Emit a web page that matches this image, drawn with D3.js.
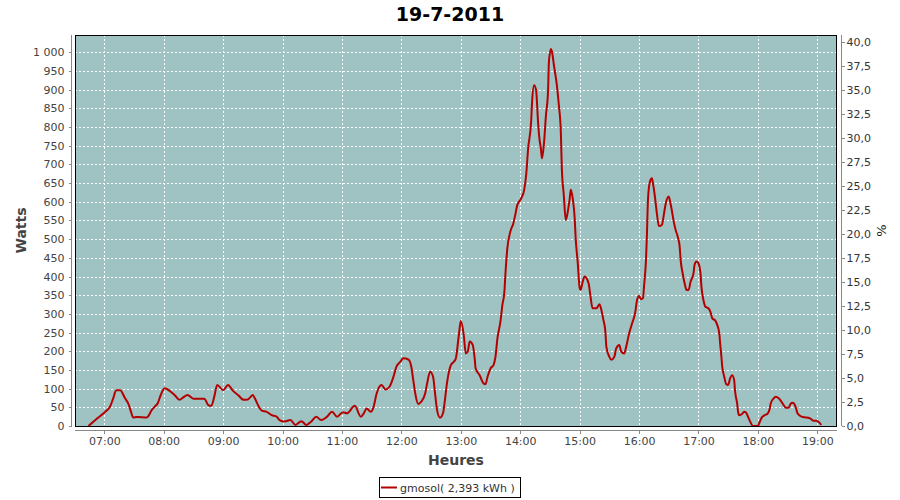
<!DOCTYPE html>
<html>
<head>
<meta charset="utf-8">
<script src="https://cdn.jsdelivr.net/npm/d3@7"></script>
<style>
  html, body { margin: 0; padding: 0; background: #fff; }
  svg { display: block; font-family: "DejaVu Sans", sans-serif; }
</style>
</head>
<body>
<svg id="chart" width="900" height="500"></svg>
<script>
const titleText = "19-7-2011";
const seriesName = "gmosol( 2,393 kWh )";
const xLabel = "Heures";
const yLabel = "Watts";
const y2Label = "%";

const times = ["06:44","06:51","06:56","07:01","07:06","07:09","07:12","07:16","07:21","07:24","07:27","07:29","07:33","07:43","07:44","07:48","07:51","07:54","07:57","08:01","08:06","08:11","08:16","08:20","08:24","08:30","08:41","08:45","08:48","08:51","08:54","09:00","09:05","09:10","09:15","09:21","09:25","09:30","09:32","09:36","09:39","09:44","09:49","09:54","09:57","10:02","10:08","10:13","10:19","10:24","10:29","10:34","10:39","10:45","10:50","10:55","11:01","11:05","11:13","11:19","11:22","11:25","11:29","11:32","11:35","11:40","11:44","11:48","11:52","11:55","11:59","12:02","12:07","12:10","12:12","12:14","12:17","12:20","12:24","12:26","12:29","12:32","12:34","12:36","12:39","12:42","12:44","12:46","12:50","12:53","12:55","12:58","13:00","13:03","13:05","13:07","13:09","13:12","13:14","13:15","13:19","13:23","13:25","13:27","13:30","13:33","13:35","13:37","13:40","13:42","13:44","13:45","13:47","13:50","13:53","13:55","13:57","14:01","14:04","14:06","14:08","14:11","14:12","14:14","14:16","14:18","14:19","14:21","14:22","14:24","14:26","14:28","14:29","14:31","14:32","14:34","14:37","14:39","14:41","14:42","14:44","14:46","14:48","14:50","14:51","14:53","14:55","14:56","14:58","15:00","15:01","15:03","15:05","15:09","15:11","15:13","15:17","15:20","15:22","15:24","15:26","15:27","15:30","15:32","15:35","15:37","15:40","15:42","15:45","15:47","15:50","15:53","15:56","15:58","16:00","16:02","16:04","16:05","16:07","16:08","16:09","16:11","16:13","16:14","16:16","16:18","16:20","16:23","16:25","16:27","16:30","16:31","16:33","16:35","16:37","16:39","16:41","16:42","16:44","16:46","16:48","16:50","16:52","16:55","16:56","16:58","17:00","17:02","17:03","17:05","17:07","17:10","17:12","17:14","17:17","17:19","17:21","17:22","17:23","17:24","17:26","17:28","17:30","17:32","17:34","17:36","17:37","17:39","17:40","17:41","17:44","17:46","17:48","17:50","17:52","17:55","18:00","18:02","18:04","18:07","18:10","18:12","18:13","18:16","18:18","18:21","18:23","18:26","18:28","18:31","18:33","18:35","18:38","18:40","18:44","18:48","18:51","18:54","18:56","18:59","19:02","19:04"];

const watts = [0,16,27,38,53,74,96,96,74,61,38,23,24,23,25,43,52,61,83,101,94,83,70,77,83,73,73,56,54,78,110,96,110,94,83,70,71,83,74,52,41,38,29,25,16,12,16,3,13,3,12,25,16,25,38,25,37,34,54,25,34,47,38,52,87,110,98,105,132,159,172,181,178,159,123,87,59,65,87,114,145,132,87,43,22,34,70,114,163,172,181,243,281,243,194,199,226,217,181,154,136,114,112,132,154,163,185,235,279,324,359,404,476,520,542,565,591,609,632,672,743,814,868,912,899,814,779,739,716,757,832,890,975,1009,1002,966,912,859,788,690,618,551,573,609,632,609,556,502,440,370,364,385,400,382,346,315,315,326,310,284,252,212,185,177,185,208,217,199,194,212,248,275,302,337,348,339,342,373,444,516,605,654,663,650,614,569,535,538,565,596,614,605,578,547,524,507,480,444,409,382,364,364,386,409,431,440,435,409,373,337,319,315,306,288,282,270,248,217,190,159,132,112,110,128,136,123,92,61,38,29,32,38,36,25,13,0,0,12,23,29,34,47,61,74,78,74,68,56,49,49,59,62,52,34,25,23,22,18,14,14,9,3];

const xTickLabels = ["07:00","08:00","09:00","10:00","11:00","12:00","13:00","14:00","15:00","16:00","17:00","18:00","19:00"];
const yTicks = d3.range(0, 1001, 50);
const y2Ticks = d3.range(0, 40.01, 2.5);

const parse = d3.timeParse("%Y-%m-%d %H:%M:%S");
const day = "2011-07-19 ";
const data = times.map((t, i) => ({ t: parse(day + t + ":00"), v: watts[i] }));

const L = 75, R = 837, T = 35, B = 426;
const svg = d3.select("#chart");

const x = d3.scaleTime()
  .domain([parse(day + "06:30:25"), parse(day + "19:19:53")])
  .range([L, R]);
const y = d3.scaleLinear().domain([0, 1046.3]).range([B, T]);
const y2 = d3.scaleLinear().domain([0, 40.76]).range([B, T]);

// title
svg.append("text").attr("x", 450).attr("y", 21).attr("text-anchor", "middle")
  .attr("font-size", 19).attr("font-weight", "bold").attr("fill", "#000").text(titleText);

// plot background
svg.append("rect").attr("x", L).attr("y", T).attr("width", R - L).attr("height", B - T)
  .attr("fill", "#9ec3c2");

// grid
const gridG = svg.append("g").attr("shape-rendering", "crispEdges");
const hourTicks = xTickLabels.map(s => parse(day + s + ":00"));
gridG.selectAll("line.vx").data(hourTicks).enter().append("line")
  .attr("x1", d => Math.round(x(d)) + 0.5).attr("x2", d => Math.round(x(d)) + 0.5)
  .attr("y1", T).attr("y2", B)
  .attr("stroke", "#fff").attr("stroke-width", 1).attr("stroke-dasharray", "2,2");
gridG.selectAll("line.hy").data(yTicks.filter(d => d > 0)).enter().append("line")
  .attr("x1", L).attr("x2", R)
  .attr("y1", d => Math.round(y(d)) + 0.5).attr("y2", d => Math.round(y(d)) + 0.5)
  .attr("stroke", "#fff").attr("stroke-width", 1).attr("stroke-dasharray", "2,2");

// line
svg.append("clipPath").attr("id", "clip").append("rect")
  .attr("x", L).attr("y", T - 2).attr("width", R - L).attr("height", B - T + 4);
svg.append("path").datum(data)
  .attr("clip-path", "url(#clip)")
  .attr("fill", "none").attr("stroke", "#b40000").attr("stroke-width", 2)
  .attr("stroke-linejoin", "round")
  .attr("d", d3.line().x(d => x(d.t)).y(d => y(d.v)).curve(d3.curveMonotoneX));

// plot border
svg.append("rect").attr("x", L + 0.5).attr("y", T + 0.5).attr("width", R - L - 1).attr("height", B - T)
  .attr("fill", "none").attr("stroke", "#000").attr("stroke-width", 1).attr("shape-rendering", "crispEdges");

// axes
const fmtW = v => v >= 1000 ? d3.format(",")(v).replace(",", " ") : String(v);
const fmtP = v => d3.format(".1f")(v).replace(".", ",");

function styleAxis(g) {
  g.select(".domain").remove();
  g.selectAll(".tick line").attr("stroke", "#888").attr("shape-rendering", "crispEdges");
  g.selectAll(".tick text").attr("fill", "#444").attr("font-size", 11)
    .attr("font-family", "DejaVu Sans, sans-serif");
}

const gl = svg.append("g").attr("transform", `translate(71.5,0)`)
  .call(d3.axisLeft(y).tickValues(yTicks).tickFormat(fmtW).tickSizeInner(3).tickSizeOuter(0).tickPadding(4));
styleAxis(gl);
svg.append("line").attr("x1", 71.5).attr("x2", 71.5).attr("y1", T).attr("y2", B)
  .attr("stroke", "#888").attr("shape-rendering", "crispEdges");

const gr = svg.append("g").attr("transform", `translate(841.5,0)`)
  .call(d3.axisRight(y2).tickValues(y2Ticks).tickFormat(fmtP).tickSizeInner(3).tickSizeOuter(0).tickPadding(2));
styleAxis(gr);
gr.selectAll(".tick text").attr("fill", "#333");
svg.append("line").attr("x1", 841.5).attr("x2", 841.5).attr("y1", T).attr("y2", B)
  .attr("stroke", "#888").attr("shape-rendering", "crispEdges");

const gb = svg.append("g").attr("transform", `translate(0,430.5)`)
  .call(d3.axisBottom(x).tickValues(hourTicks).tickFormat(d3.timeFormat("%H:%M")).tickSizeInner(3).tickSizeOuter(0).tickPadding(4));
styleAxis(gb);
svg.append("line").attr("x1", L).attr("x2", R).attr("y1", 430.5).attr("y2", 430.5)
  .attr("stroke", "#888").attr("shape-rendering", "crispEdges");

// axis labels
svg.append("text").attr("x", (L + R) / 2).attr("y", 465).attr("text-anchor", "middle")
  .attr("font-size", 14).attr("font-weight", "bold").attr("fill", "#444").text(xLabel);
svg.append("text").attr("transform", `translate(26,${(T + B) / 2}) rotate(-90)`)
  .attr("text-anchor", "middle").attr("font-size", 14).attr("font-weight", "bold")
  .attr("fill", "#444").text(yLabel);
svg.append("text").attr("transform", `translate(886,${(T + B) / 2}) rotate(-90)`)
  .attr("text-anchor", "middle").attr("font-size", 13).attr("fill", "#222").text(y2Label);

// legend
const lg = svg.append("g");
lg.append("rect").attr("x", 379.5).attr("y", 477.5).attr("width", 141).attr("height", 20)
  .attr("fill", "#fff").attr("stroke", "#000").attr("shape-rendering", "crispEdges");
lg.append("line").attr("x1", 381).attr("x2", 397).attr("y1", 487.5).attr("y2", 487.5)
  .attr("stroke", "#b40000").attr("stroke-width", 2);
lg.append("text").attr("x", 400).attr("y", 491.5).attr("font-size", 11).attr("fill", "#333")
  .text(seriesName);
</script>
</body>
</html>
